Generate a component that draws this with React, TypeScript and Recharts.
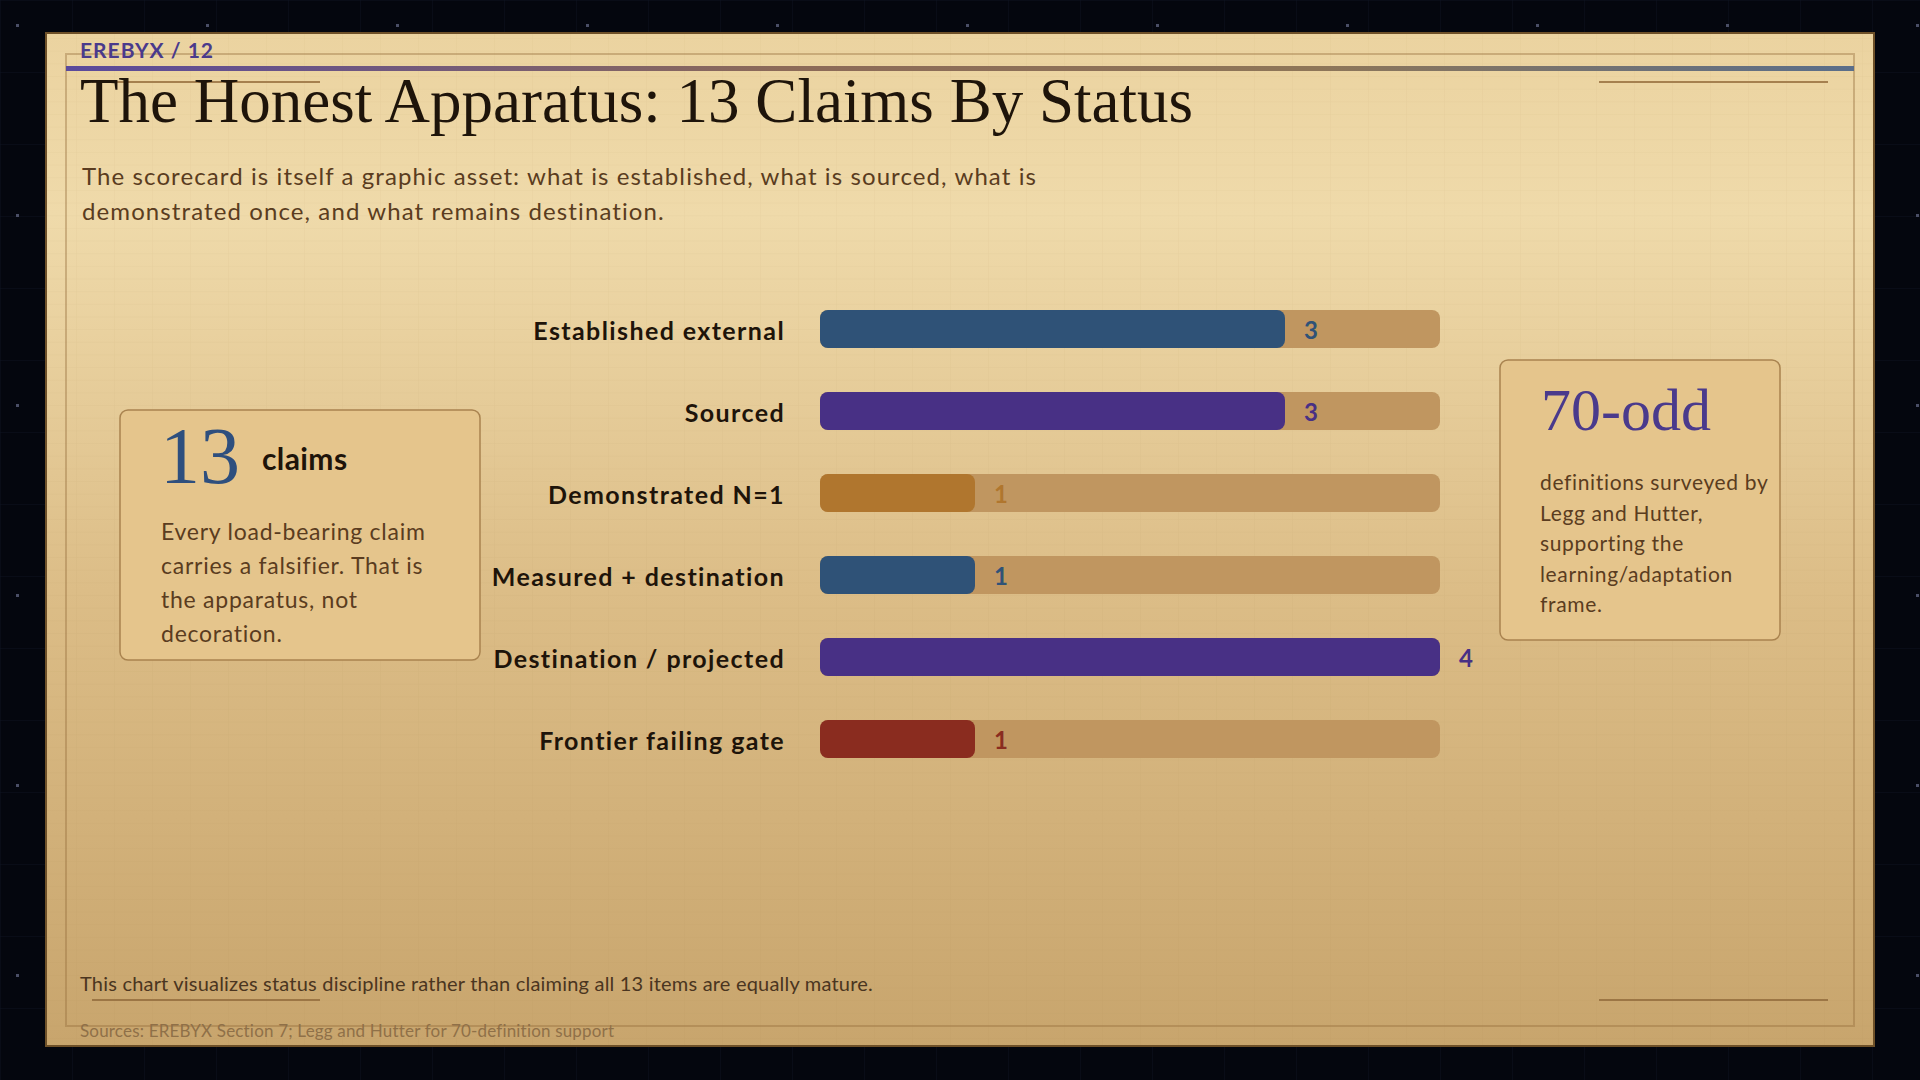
import { BarChart, Bar, XAxis, YAxis, Cell, LabelList } from 'recharts';

const statuses = [
  'Established external',
  'Sourced',
  'Demonstrated N=1',
  'Measured + destination',
  'Destination / projected',
  'Frontier failing gate',
];
const counts = [3, 3, 1, 1, 4, 1];
const statusColors = ['#2f5277', '#483085', '#b0762e', '#2f5277', '#483085', '#8a2c1f'];

const subtitleLines = [
  'The scorecard is itself a graphic asset: what is established, what is sourced, what is',
  'demonstrated once, and what remains destination.',
];
const leftNoteLines = ['Every load-bearing claim', 'carries a falsifier. That is', 'the apparatus, not', 'decoration.'];
const rightNoteLines = ['definitions surveyed by', 'Legg and Hutter,', 'supporting the', 'learning/adaptation', 'frame.'];

const data = statuses.map((name, i) => ({ name, count: counts[i] }));

const SANS = 'Lato, "Open Sans", sans-serif';
const SERIF = '"Liberation Serif", "DejaVu Serif", serif';

function ValueLabel(props: any) {
  const { x, y, width, height, value, index } = props;
  return (
    <text
      x={x + width + 19}
      y={y + height / 2}
      dominantBaseline="central"
      fill={statusColors[index] || '#483085'}
      fontFamily={SANS}
      fontWeight={700}
      fontSize={24}
      letterSpacing={0.5}
    >
      {value}
    </text>
  );
}

function Backdrop() {
  return (
    <svg width={1920} height={1080} style={{ position: 'absolute', left: 0, top: 0 }}>
      <defs>
        <linearGradient id="paper" x1="0" y1="0" x2="0" y2="1">
          <stop offset="0%" stopColor="#ebd3a0" />
          <stop offset="18%" stopColor="#efdaaa" />
          <stop offset="55%" stopColor="#dcbd87" />
          <stop offset="100%" stopColor="#c8a56d" />
        </linearGradient>
        <linearGradient id="rule" x1="0" y1="0" x2="1" y2="0">
          <stop offset="0%" stopColor="#5a4a9c" />
          <stop offset="40%" stopColor="#8c6a58" />
          <stop offset="70%" stopColor="#8e7658" />
          <stop offset="100%" stopColor="#5a6e8a" />
        </linearGradient>
        <pattern id="darkgrid" width="72" height="72" patternUnits="userSpaceOnUse">
          <path d="M72 0 L0 0 0 72" fill="none" stroke="#0d1220" strokeWidth="1" />
        </pattern>
        <pattern id="stars" width="190" height="190" patternUnits="userSpaceOnUse" x="16" y="24">
          <rect x="0" y="0" width="3" height="3" fill="#4a4e66" />
        </pattern>
        <pattern id="papergrid" width="38" height="12.66" patternUnits="userSpaceOnUse">
          <path d="M38 0 L0 0 0 12.66" fill="none" stroke="rgba(140,100,50,0.07)" strokeWidth="1" />
        </pattern>
      </defs>
      <rect x={0} y={0} width={1920} height={1080} fill="#04060e" />
      <rect x={0} y={0} width={1920} height={1080} fill="url(#darkgrid)" />
      <rect x={0} y={0} width={1920} height={1080} fill="url(#stars)" />

      <rect x={46} y={33} width={1828} height={1013} fill="url(#paper)" stroke="#6e5028" strokeWidth={2} />
      <rect x={47} y={34} width={1826} height={1011} fill="url(#papergrid)" />
      <rect x={66} y={54} width={1788} height={972} fill="none" stroke="rgba(150,110,60,0.4)" strokeWidth={2} />
      <rect x={66} y={66} width={1788} height={5} fill="url(#rule)" />

      <line x1={92} y1={82} x2={320} y2={82} stroke="#a5804f" strokeWidth={2} />
      <line x1={1599} y1={82} x2={1828} y2={82} stroke="#a5804f" strokeWidth={2} />
      <line x1={92} y1={1000} x2={320} y2={1000} stroke="#9c7645" strokeWidth={2} />
      <line x1={1599} y1={1000} x2={1828} y2={1000} stroke="#9c7645" strokeWidth={2} />

      <text x={80} y={58} fontFamily={SANS} fontWeight={700} fontSize={21} letterSpacing={1} fill="#4a3a8c">
        EREBYX / 12
      </text>
      <text x={80} y={122} fontFamily={SERIF} fontSize={63} fill="#1e140a">
        The Honest Apparatus: 13 Claims By Status
      </text>
      {subtitleLines.map((line, i) => (
        <text key={i} x={82} y={185 + i * 35} fontFamily={SANS} fontSize={24} letterSpacing={1.1} fill="#5a3c20">
          {line}
        </text>
      ))}

      <rect x={120} y={410} width={360} height={250} rx={8} fill="#e5c58c" stroke="#a9834f" strokeWidth={1.5} />
      <text x={160} y={483} fontFamily={SERIF} fontSize={80} fill="#2e4f7e">
        13
      </text>
      <text x={262} y={470} fontFamily={SANS} fontWeight={700} fontSize={30} letterSpacing={0.4} fill="#1e140a">
        claims
      </text>
      {leftNoteLines.map((line, i) => (
        <text key={i} x={161} y={540 + i * 34} fontFamily={SANS} fontSize={23} letterSpacing={0.75} fill="#5a3c20">
          {line}
        </text>
      ))}

      <rect x={1500} y={360} width={280} height={280} rx={8} fill="#e5c58c" stroke="#a9834f" strokeWidth={1.5} />
      <text x={1541} y={430} fontFamily={SERIF} fontSize={60} fill="#4a3a8c">
        70-odd
      </text>
      {rightNoteLines.map((line, i) => (
        <text key={i} x={1540} y={490 + i * 30.6} fontFamily={SANS} fontSize={21} letterSpacing={0.65} fill="#5a3c20">
          {line}
        </text>
      ))}

      <text x={80} y={991} fontFamily={SANS} fontSize={20} letterSpacing={0.2} fill="#4a3520">
        This chart visualizes status discipline rather than claiming all 13 items are equally mature.
      </text>
      <text x={80} y={1037} fontFamily={SANS} fontSize={17} letterSpacing={0.18} fill="#8f7048">
        Sources: EREBYX Section 7; Legg and Hutter for 70-definition support
      </text>
    </svg>
  );
}

export default function App() {
  return (
    <div style={{ position: 'absolute', left: 0, top: 0, width: 1920, height: 1080, overflow: 'hidden' }}>
      <Backdrop />
      <div style={{ position: 'absolute', left: 420, top: 288 }}>
        <BarChart
          width={1100}
          height={492}
          data={data}
          layout="vertical"
          margin={{ top: 0, right: 80, bottom: 0, left: 0 }}
        >
          <XAxis type="number" domain={[0, 4]} hide />
          <YAxis
            type="category"
            dataKey="name"
            width={400}
            axisLine={false}
            tickLine={false}
            tickSize={0}
            tickMargin={35}
            tick={{ fill: '#1e140a', fontSize: 25, fontWeight: 700, fontFamily: SANS, letterSpacing: 1.4, dy: 2 }}
          />
          <Bar
            dataKey="count"
            barSize={38}
            radius={8}
            background={{ fill: '#c09660', radius: 8 }}
            isAnimationActive={false}
          >
            {data.map((d, i) => (
              <Cell key={d.name} fill={statusColors[i]} />
            ))}
            <LabelList dataKey="count" content={ValueLabel} />
          </Bar>
        </BarChart>
      </div>
    </div>
  );
}
